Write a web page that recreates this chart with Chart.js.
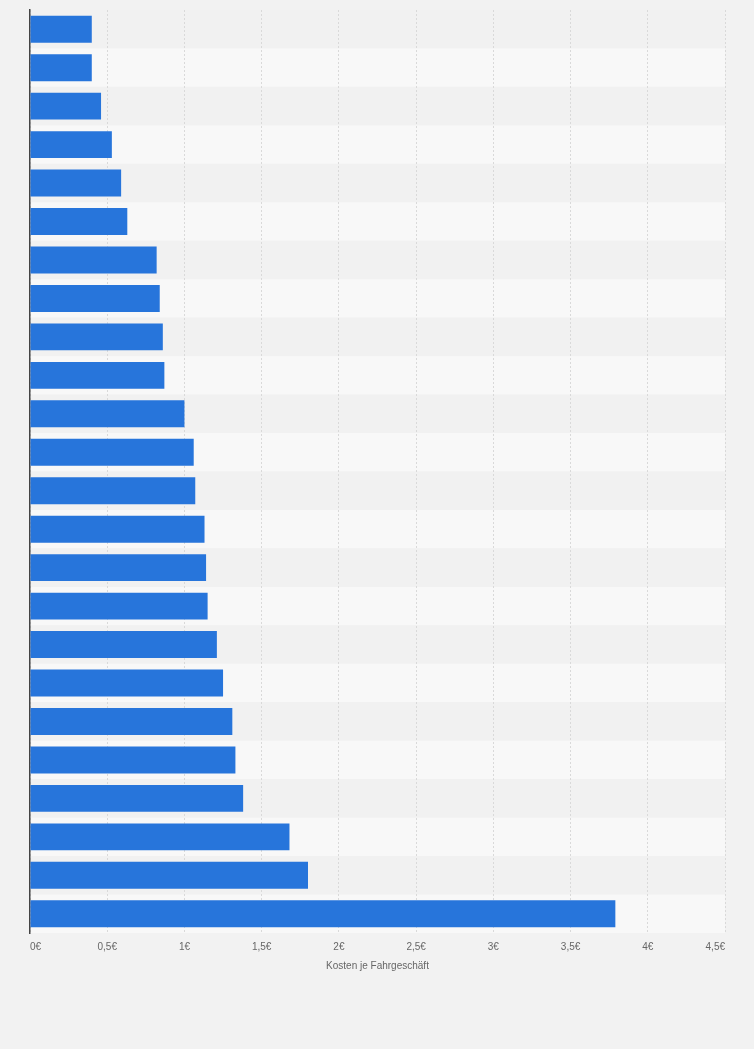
<!DOCTYPE html>
<html lang="de">
<head>
<meta charset="utf-8">
<title>Kosten je Fahrgeschäft</title>
<script src="https://cdn.jsdelivr.net/npm/chart.js@4/dist/chart.umd.min.js"></script>
<style>
  html, body { margin: 0; padding: 0; background: #f2f2f2; }
  #wrap { position: relative; width: 754px; height: 1049px; }
</style>
</head>
<body>
<div id="wrap"><canvas id="chart"></canvas></div>
<script>
// Categories (ride names are not shown in the picture)
const categories = [
  'Fahrgeschäft 1', 'Fahrgeschäft 2', 'Fahrgeschäft 3', 'Fahrgeschäft 4',
  'Fahrgeschäft 5', 'Fahrgeschäft 6', 'Fahrgeschäft 7', 'Fahrgeschäft 8',
  'Fahrgeschäft 9', 'Fahrgeschäft 10', 'Fahrgeschäft 11', 'Fahrgeschäft 12',
  'Fahrgeschäft 13', 'Fahrgeschäft 14', 'Fahrgeschäft 15', 'Fahrgeschäft 16',
  'Fahrgeschäft 17', 'Fahrgeschäft 18', 'Fahrgeschäft 19', 'Fahrgeschäft 20',
  'Fahrgeschäft 21', 'Fahrgeschäft 22', 'Fahrgeschäft 23', 'Fahrgeschäft 24'
];

// Cost per ride in euro
const costs = [
  0.40, 0.40, 0.46, 0.53, 0.59, 0.63, 0.82, 0.84,
  0.86, 0.87, 1.00, 1.06, 1.07, 1.13, 1.14, 1.15,
  1.21, 1.25, 1.31, 1.33, 1.38, 1.68, 1.80, 3.79
];

// x axis ticks
const xTicks = [0, 0.5, 1, 1.5, 2, 2.5, 3, 3.5, 4, 4.5];
const axisTitle = 'Kosten je Fahrgeschäft';

// alternating row bands behind the bars
const rowBands = {
  id: 'rowBands',
  beforeDraw(chart) {
    const { ctx, chartArea, scales } = chart;
    ctx.save();
    ctx.fillStyle = '#f2f2f2';
    ctx.fillRect(0, 0, chart.width, chart.height);
    const y = scales.y;
    const step = Math.abs(y.getPixelForValue(1) - y.getPixelForValue(0));
    categories.forEach((c, i) => {
      const mid = y.getPixelForValue(i);
      ctx.fillStyle = i % 2 === 0 ? '#f1f1f1' : '#f8f8f8';
      ctx.fillRect(chartArea.left, mid - step / 2, chartArea.right - chartArea.left, step);
    });
    ctx.restore();
  }
};

const font = { family: 'Liberation Sans, Arial, sans-serif', size: 10, lineHeight: 1 };

const ctx = document.getElementById('chart').getContext('2d');
new Chart(ctx, {
  type: 'bar',
  data: {
    labels: categories,
    datasets: [{
      data: costs,
      backgroundColor: '#2775db',
      borderWidth: 0,
      barPercentage: 0.7,
      categoryPercentage: 1
    }]
  },
  options: {
    indexAxis: 'y',
    responsive: true,
    maintainAspectRatio: false,
    animation: false,
    layout: { padding: { top: 10, left: 22, right: 29, bottom: 78 } },
    plugins: {
      legend: { display: false },
      tooltip: { enabled: false }
    },
    scales: {
      x: {
        min: xTicks[0],
        max: xTicks[xTicks.length - 1],
        afterBuildTicks(axis) {
          axis.ticks = xTicks.map(v => ({ value: v }));
        },
        grid: {
          color: '#d9d9d9',
          lineWidth: 1,
          drawTicks: false
        },
        border: { display: false, dash: [2, 2] },
        ticks: {
          padding: 9,
          align: 'inner',
          color: '#666',
          font: font,
          callback: v => String(v).replace('.', ',') + '€'
        },
        title: {
          display: true,
          text: axisTitle,
          color: '#666',
          font: font,
          padding: { top: 0, bottom: 0 }
        }
      },
      y: {
        grid: { display: false },
        border: { display: true, color: '#444', width: 1.5 },
        ticks: { display: false }
      }
    }
  },
  plugins: [rowBands]
});
</script>
</body>
</html>
